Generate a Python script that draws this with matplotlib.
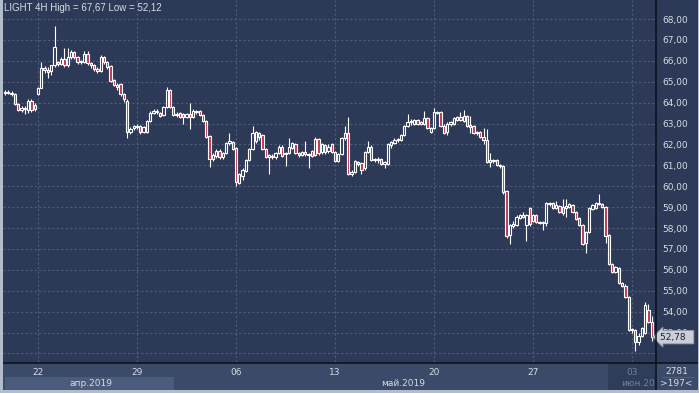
#!/usr/bin/env python3
import matplotlib

matplotlib.use("Agg")
import matplotlib.pyplot as plt
from matplotlib.lines import Line2D
from matplotlib.patches import Rectangle

W, H = 699, 393

BG = "#2d3a57"
STRIP = "#3c4a69"
BAND = "#4b5b7b"
JUNE = "#2f3c5a"
FRAME = "#b3bccb"
GRID = "#4e5c7c"
TEXT = "#d6dce6"
DIM = "#71809e"
BEAR = "#c0334f"

# 4H candles, Brent ("LIGHT")
opens = [
    64.45, 64.50, 64.45, 64.40, 63.95, 63.65, 63.75, 63.65, 64.10, 63.90,
    64.40, 64.70, 65.65, 65.55, 65.50, 65.80, 65.95, 65.85, 66.10, 65.80,
    66.20, 66.40, 66.20, 65.95, 65.95, 66.35, 65.90, 65.80, 65.60, 65.50,
    66.20, 65.95, 65.75, 65.10, 64.85, 64.90, 64.40, 64.10, 62.60, 62.80,
    62.85, 62.90, 62.60, 62.60, 63.10, 63.50, 63.60, 63.50, 63.40, 63.80,
    64.60, 63.80, 63.40, 63.50, 63.45, 63.30, 63.45, 63.30, 63.60, 63.60,
    63.40, 63.10, 62.40, 61.30, 61.45, 61.70, 61.40, 61.60, 62.05, 62.10,
    61.85, 60.15, 60.50, 60.75, 61.25, 61.80, 62.15, 62.55, 62.45, 61.80,
    61.40, 61.45, 61.40, 61.60, 61.90, 61.55, 61.60, 61.85, 62.00, 61.60,
    61.50, 61.65, 61.55, 61.70, 61.50, 62.25, 61.65, 61.95, 61.70, 62.00,
    61.65, 61.20, 61.55, 62.30, 62.55, 60.60, 60.70, 61.15, 61.10, 60.85,
    61.65, 61.90, 61.25, 61.30, 61.30, 61.05, 61.05, 61.95, 62.05, 62.20,
    62.20, 62.45, 62.90, 63.05, 63.00, 63.15, 63.00, 63.00, 63.25, 62.60,
    62.80, 63.55, 63.55, 62.90, 62.60, 63.00, 63.00, 63.15, 63.30, 63.10,
    63.35, 62.95, 62.90, 62.55, 62.60, 62.35, 62.20, 61.15, 61.25, 61.25,
    61.00, 60.95, 59.75, 57.65, 58.10, 58.15, 58.50, 58.55, 58.15, 58.95,
    58.35, 58.60, 58.30, 58.25, 58.25, 59.20, 59.20, 58.95, 59.05, 59.00,
    58.95, 59.00, 59.10, 58.75, 58.50, 58.15, 57.30, 57.80, 58.90, 58.95,
    59.20, 59.15, 59.00, 57.65, 56.30, 55.90, 56.10, 55.35, 55.25, 54.70,
    53.10, 53.10, 52.55, 52.85, 53.00, 54.10, 53.50,
]
highs = [
    64.60, 64.60, 64.55, 64.45, 64.00, 63.85, 63.85, 64.15, 64.15, 64.00,
    64.75, 65.95, 65.75, 65.70, 65.80, 67.67, 66.00, 66.20, 66.60, 66.60,
    66.50, 66.45, 66.25, 66.05, 66.45, 66.45, 65.95, 65.85, 65.70, 66.30,
    66.25, 66.00, 65.80, 65.15, 64.95, 64.95, 64.45, 64.15, 62.85, 62.95,
    63.00, 62.95, 62.90, 63.15, 63.60, 63.70, 63.70, 63.55, 63.85, 64.75,
    64.65, 63.85, 63.55, 63.55, 63.50, 63.50, 64.00, 63.70, 63.65, 63.65,
    63.45, 63.15, 62.45, 61.60, 61.80, 61.80, 61.65, 62.10, 62.55, 62.15,
    61.90, 60.65, 60.85, 61.30, 61.85, 62.90, 62.65, 62.60, 62.50, 61.85,
    61.55, 61.55, 61.65, 61.95, 61.95, 61.65, 62.30, 62.10, 62.05, 61.65,
    61.70, 62.15, 61.60, 61.75, 62.35, 62.30, 62.05, 62.00, 62.00, 62.05,
    61.70, 61.60, 62.35, 62.90, 63.30, 60.80, 61.25, 61.20, 61.15, 61.70,
    62.15, 61.95, 61.35, 61.40, 61.35, 61.20, 62.05, 62.15, 62.30, 62.30,
    62.50, 62.95, 63.45, 63.20, 63.20, 63.20, 63.10, 63.60, 63.30, 62.85,
    63.75, 63.60, 63.60, 63.00, 63.05, 63.10, 63.30, 63.35, 63.55, 63.65,
    63.40, 63.35, 62.95, 62.65, 62.65, 62.80, 62.75, 61.60, 61.30, 61.30,
    61.05, 61.00, 59.80, 58.20, 58.35, 58.60, 58.65, 58.75, 58.65, 59.00,
    58.65, 58.65, 58.35, 58.35, 59.25, 59.25, 59.25, 59.30, 59.10, 59.40,
    59.40, 59.20, 59.15, 58.80, 58.55, 58.20, 57.85, 59.00, 59.15, 59.25,
    59.65, 59.20, 59.05, 57.70, 56.35, 56.20, 56.15, 55.40, 55.30, 54.75,
    53.20, 53.15, 53.00, 53.25, 54.45, 54.35, 53.80,
]
lows = [
    64.35, 64.40, 64.30, 63.90, 63.60, 63.55, 63.45, 63.50, 63.55, 63.60,
    64.35, 64.70, 65.40, 65.20, 65.30, 65.70, 65.75, 65.80, 65.70, 65.70,
    66.10, 66.10, 65.85, 65.85, 65.90, 65.80, 65.65, 65.50, 65.40, 65.45,
    65.85, 65.60, 65.00, 64.80, 64.60, 64.30, 64.05, 62.30, 62.50, 62.70,
    62.75, 62.50, 62.55, 62.55, 63.05, 63.45, 63.45, 63.30, 63.35, 63.75,
    63.75, 63.35, 63.30, 63.25, 63.00, 63.25, 62.75, 63.25, 63.45, 63.35,
    63.05, 62.30, 60.90, 61.20, 61.35, 61.30, 61.30, 61.55, 61.95, 61.75,
    60.00, 60.10, 60.30, 60.70, 61.20, 61.75, 62.05, 62.20, 61.75, 61.35,
    60.60, 61.30, 61.30, 61.55, 61.40, 60.95, 61.55, 61.80, 61.55, 61.40,
    61.45, 61.45, 60.85, 61.40, 61.45, 61.50, 61.55, 61.55, 61.60, 61.60,
    61.15, 61.15, 61.50, 62.20, 60.55, 60.50, 60.65, 60.95, 60.60, 60.80,
    61.60, 61.20, 61.15, 61.10, 61.00, 60.85, 61.00, 61.85, 62.00, 62.10,
    62.15, 62.40, 62.85, 62.95, 62.95, 62.95, 62.95, 62.95, 62.75, 62.55,
    62.75, 63.45, 62.85, 62.50, 62.45, 62.90, 62.95, 63.10, 63.10, 63.05,
    62.85, 62.55, 62.50, 62.45, 62.30, 62.00, 61.10, 60.90, 61.10, 60.95,
    60.85, 59.65, 57.50, 57.25, 58.00, 58.10, 58.45, 58.50, 57.40, 58.10,
    58.30, 58.25, 58.20, 57.90, 58.10, 59.05, 58.90, 58.90, 58.70, 58.60,
    58.55, 58.95, 58.70, 58.40, 58.10, 57.20, 56.80, 57.75, 58.85, 58.90,
    59.10, 58.95, 57.30, 56.25, 55.85, 55.85, 55.30, 55.20, 54.65, 53.05,
    53.00, 52.12, 52.40, 52.80, 52.95, 53.45, 52.60,
]
closes = [
    64.50, 64.45, 64.40, 63.95, 63.65, 63.75, 63.70, 64.10, 63.65, 63.70,
    64.70, 65.65, 65.55, 65.45, 65.80, 66.65, 65.85, 66.10, 65.80, 66.20,
    66.40, 66.20, 65.95, 66.00, 66.35, 65.90, 65.80, 65.60, 65.50, 66.20,
    65.95, 65.70, 65.05, 64.85, 64.75, 64.40, 64.15, 62.60, 62.75, 62.90,
    62.90, 62.60, 62.85, 63.10, 63.50, 63.60, 63.55, 63.35, 63.80, 64.60,
    63.80, 63.40, 63.45, 63.30, 63.30, 63.45, 63.30, 63.60, 63.55, 63.40,
    63.10, 62.35, 61.30, 61.50, 61.70, 61.40, 61.60, 62.05, 62.15, 61.80,
    60.20, 60.60, 60.80, 61.25, 61.80, 62.55, 62.60, 62.35, 61.80, 61.40,
    61.50, 61.40, 61.60, 61.90, 61.45, 61.60, 61.90, 62.05, 61.60, 61.50,
    61.65, 61.55, 61.50, 61.45, 62.25, 61.60, 62.00, 61.65, 61.90, 61.65,
    61.20, 61.55, 62.30, 62.55, 60.60, 60.70, 61.20, 61.05, 60.80, 61.65,
    61.90, 61.25, 61.30, 61.25, 61.05, 61.15, 62.00, 62.10, 62.20, 62.25,
    62.45, 62.90, 63.05, 63.10, 63.15, 63.00, 63.05, 63.25, 62.80, 62.80,
    63.55, 63.50, 62.90, 62.55, 63.00, 63.05, 63.25, 63.30, 63.15, 63.35,
    62.90, 62.85, 62.55, 62.60, 62.35, 62.20, 61.15, 61.25, 61.20, 61.00,
    60.95, 59.70, 57.60, 58.15, 58.20, 58.55, 58.60, 58.60, 58.60, 58.20,
    58.60, 58.30, 58.25, 58.30, 59.20, 59.15, 58.95, 59.10, 58.75, 58.70,
    59.05, 59.15, 58.75, 58.45, 58.15, 57.25, 57.80, 58.95, 59.10, 59.20,
    59.15, 59.00, 57.60, 56.30, 55.90, 56.15, 55.35, 55.25, 54.70, 53.10,
    53.15, 52.55, 52.85, 53.20, 54.30, 53.50, 52.78,
]

day_ticks = [10, 40, 70, 100, 130, 160, 190]
day_labels = ["22", "29", "06", "13", "20", "27", "03"]
price_ticks = list(range(52, 69))
month_labels = ["апр.2019", "май.2019", "июн.20"]
bars_info = "2781"


def fx(x: float) -> float:
    return x / W


def fy(y: float) -> float:
    return 1 - y / H


def fmt(v: float) -> str:
    return f"{v:.2f}".replace(".", ",")


def box(fig, x0, y0, x1, y1, color, z=-1):
    fig.add_artist(Rectangle((fx(x0), fy(y1)), (x1 - x0) / W, (y1 - y0) / H,
                             transform=fig.transFigure, facecolor=color,
                             edgecolor="none", zorder=z))


def line(fig, xs, ys, color, lw, z=5):
    fig.add_artist(Line2D([fx(x) for x in xs], [fy(y) for y in ys],
                          transform=fig.transFigure, color=color, lw=lw,
                          zorder=z))


def chrome(fig):
    # bottom time strip and month bands
    box(fig, 0, 363, W, 390, STRIP)
    box(fig, 5, 377, 174, 390, BAND)
    box(fig, 608, 363, 655, 390, JUNE)
    # frame and separators
    box(fig, 0, 0, 3, H, FRAME, z=6)
    box(fig, 0, 390, W, H, FRAME, z=6)
    box(fig, 697.5, 0, W, H, FRAME, z=6)
    line(fig, [0, W], [362.5, 362.5], "#0b0f18", 1.1)
    line(fig, [655.5, 655.5], [0, 390], "#0b0f18", 1.1)
    line(fig, [662, 694], [377, 377], "#56647f", 0.6)

    fig.text(fx(91), fy(384), month_labels[0], ha="center", va="center",
             fontsize=6.5, color=TEXT)
    fig.text(fx(403), fy(384), month_labels[1], ha="center", va="center",
             fontsize=6.5, color=TEXT)
    fig.text(fx(638), fy(384), month_labels[2], ha="center", va="center",
             fontsize=6.5, color=DIM)
    fig.text(fx(677), fy(371), bars_info, ha="center", va="center",
             fontsize=6.5, color=TEXT)
    fig.text(fx(676), fy(384), f">{len(closes)}<", ha="center",
             va="center", fontsize=6.5, color=TEXT)


def plot_candles(ax):
    xs = list(range(len(closes)))
    ax.vlines(xs, lows, highs, color="white", lw=0.8, zorder=2)
    bottoms = [min(o, c) for o, c in zip(opens, closes)]
    heights = [max(abs(c - o), 0.03) for o, c in zip(opens, closes)]
    fills = [BEAR if c < o else BG for o, c in zip(opens, closes)]
    ax.bar(xs, heights, bottom=bottoms, width=0.68, color=fills,
           edgecolor="white", linewidth=0.8, zorder=3)


def main() -> None:
    plt.rcParams["font.family"] = ["DejaVu Sans"]
    fig = plt.figure(figsize=(W / 100, H / 100), dpi=100, facecolor=BG)
    ax = fig.add_axes([fx(3), fy(362), (655 - 3) / W, 362 / H])
    ax.set_facecolor(BG)
    for s in ax.spines.values():
        s.set_visible(False)

    plot_candles(ax)
    ax.set_xlim(-0.61, 196.97)
    ax.set_ylim(51.59, 68.91)

    ax.set_xticks(day_ticks)
    ax.set_xticklabels(day_labels)
    ax.set_yticks(price_ticks)
    ax.set_yticklabels(["" if v == 52 else fmt(v) for v in price_ticks])
    ax.yaxis.tick_right()
    ax.tick_params(axis="both", length=0, labelsize=6.5, labelcolor=TEXT)
    ax.tick_params(axis="x", pad=4)
    ax.tick_params(axis="y", pad=5)
    ax.get_xticklabels()[-1].set_color(DIM)
    ax.grid(True, color=GRID, linestyle=(0, (2, 2)), linewidth=0.8, zorder=0)
    ax.set_axisbelow(True)

    # last price tag, sits over the 53,00 label as in the terminal
    ax.text(1.008, closes[-1], fmt(closes[-1]) + "  ",
            transform=ax.get_yaxis_transform(), ha="left", va="center",
            fontsize=6.5, color="#1b2231", zorder=7, clip_on=False,
            bbox=dict(boxstyle="larrow,pad=0.25", fc="#c9ced7",
                      ec="#8b94a6", lw=0.6))

    fig.text(fx(4), fy(8), f"LIGHT 4H High = {fmt(max(highs))} "
             f"Low = {fmt(min(lows))}", ha="left", va="center",
             fontsize=7, color=TEXT, family=["Liberation Sans", "DejaVu Sans"])

    chrome(fig)
    fig.savefig("out.png", dpi=100, facecolor=BG)


if __name__ == "__main__":
    main()
